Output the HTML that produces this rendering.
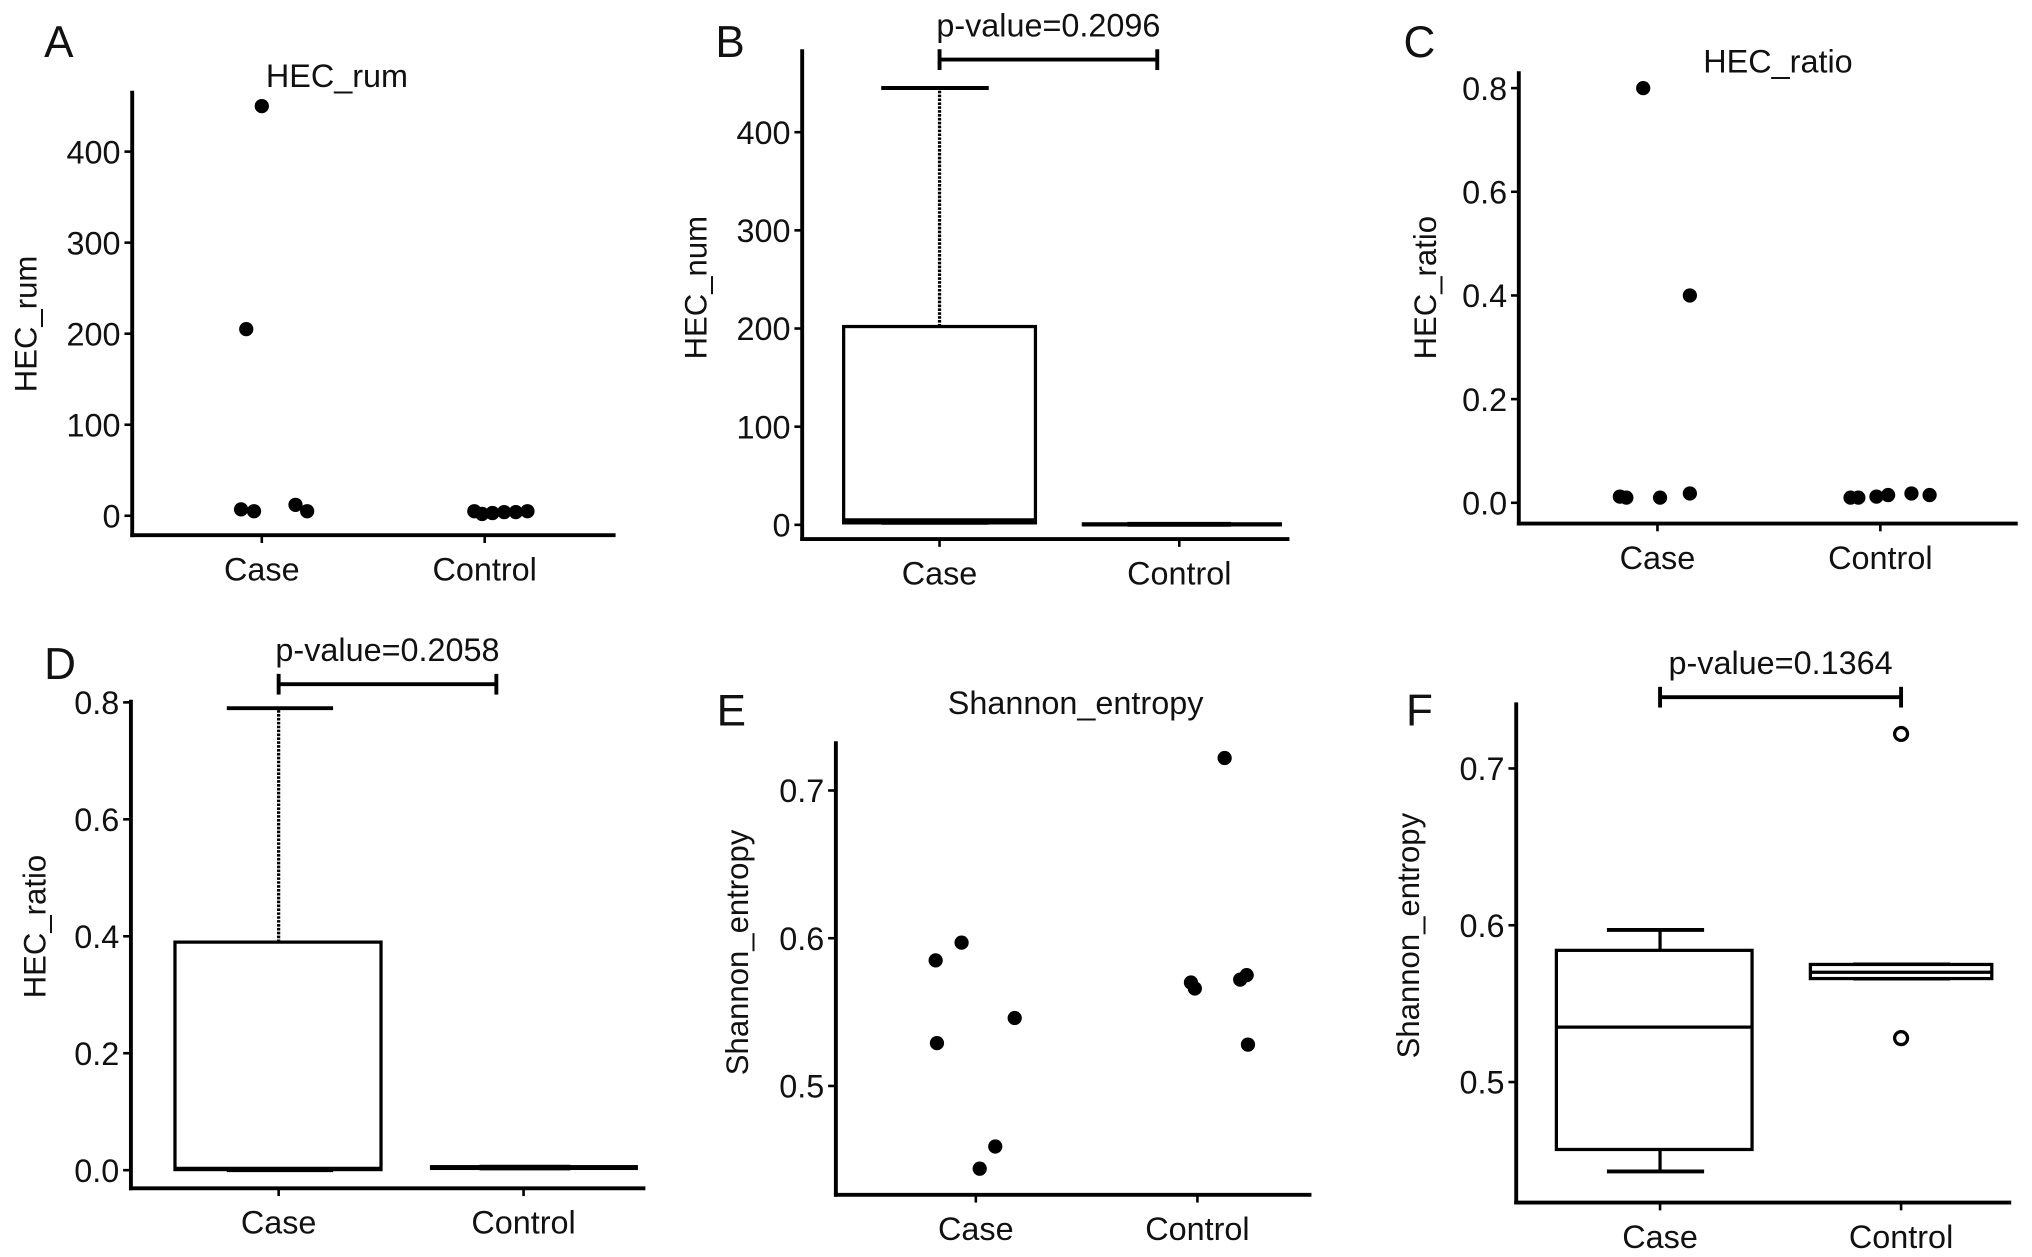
<!DOCTYPE html>
<html><head><meta charset="utf-8"><style>
html,body{margin:0;padding:0;background:#fff;}
svg{display:block;}
text{font-family:"Liberation Sans",Arial,sans-serif;fill:#111;}
</style></head><body>
<svg id="fig" width="2032" height="1257" viewBox="0 0 1568 970" xmlns="http://www.w3.org/2000/svg"></svg>
<script>
// ---- data ----
const categories = ["Case","Control"];
// Panel A: HEC_rum scatter
const aCaseVals = [450,205,7,5,12,5];
const aCaseJit  = [0,-12,-16,-6,26,35];
const aCtrlVals = [5,2,3,4,4,5];
const aCtrlJit  = [-8,-2,6,15,24,33];
const aTicks = [0,100,200,300,400];
// Panel B: HEC_num box
const bCaseBox = [2,2,5,202,445]; // min,q1,median,q3,max
const bCtrlBox = [0,0,0,1,1];
const bTicks = [0,100,200,300,400];
const bPLabel = "p-value=0.2096";
// Panel C: HEC_ratio scatter
const cCaseVals = [0.80,0.40,0.012,0.010,0.010,0.018];
const cCaseJit  = [-11,25,-29,-24,2,25];
const cCtrlVals = [0.010,0.010,0.012,0.015,0.018,0.015];
const cCtrlJit  = [-23,-17,-3,6,24,38];
const cTicks = [0,0.2,0.4,0.6,0.8];
// Panel D: HEC_ratio box
const dCaseBox = [0,0.001,0.003,0.39,0.79];
const dCtrlBox = [0.003,0.003,0.004,0.006,0.006];
const dTicks = [0,0.2,0.4,0.6,0.8];
const dPLabel = "p-value=0.2058";
// Panel E: Shannon entropy scatter
const eCaseVals = [0.585,0.597,0.546,0.529,0.459,0.444];
const eCaseJit  = [-31,-11,30,-30,15,3];
const eCtrlVals = [0.722,0.570,0.566,0.575,0.572,0.528];
const eCtrlJit  = [21,-5,-2,38,33,39];
const eTicks = [0.5,0.6,0.7];
// Panel F: Shannon entropy box
const fCaseBox = [0.443,0.457,0.535,0.584,0.597];
const fCtrlBox = [0.566,0.566,0.570,0.575,0.575];
const fCtrlOut = [0.722,0.528];
const fTicks = [0.5,0.6,0.7];
const fPLabel = "p-value=0.1364";

const NS="http://www.w3.org/2000/svg";
const svg=document.getElementById('fig');
function mk(tag,attrs,parent){const e=document.createElementNS(NS,tag);for(const k in attrs)e.setAttribute(k,attrs[k]);(parent||svg).appendChild(e);return e;}
function lin(d0,d1,r0,r1){return v=>r0+(v-d0)/(d1-d0)*(r1-r0);}

function panel(o){
  const g=mk('g',{});
  
  
  const y=lin(o.d0,o.d1,o.r0,o.r1);
  let t=mk('text',{x:o.letter[0],y:o.letter[1],'font-size':34},g);t.textContent=o.id;
  
  
  if(o.title){t=mk('text',{x:o.title[0],y:o.title[1],'font-size':25,'text-anchor':'middle'},g);t.textContent=o.title[2];
    
    }
  let l=mk('line',{x1:o.ax,y1:o.atop,x2:o.ax,y2:o.ay+1.5,stroke:'#000','stroke-width':3},g);
  
  
  l=mk('line',{x1:o.ax-1.5,y1:o.ay,x2:o.aright,y2:o.ay,stroke:'#000','stroke-width':3},g);
  
  
  o.ticks.forEach(v=>{
    mk('line',{x1:o.ax-6,y1:y(v),x2:o.ax,y2:y(v),stroke:'#000','stroke-width':2},g);
    const tt=mk('text',{x:o.ax-9,y:y(v)+9,'font-size':25,'text-anchor':'end'},g);
    tt.textContent=o.fmt(v);
    
    
  });
  categories.forEach((c,i)=>{
    mk('line',{x1:o.cx[i],y1:o.ay,x2:o.cx[i],y2:o.ay+6,stroke:'#000','stroke-width':2},g);
    const tt=mk('text',{x:o.cx[i],y:o.ay+35,'font-size':25,'text-anchor':'middle'},g);
    tt.textContent=c;
    
    
  });
  const yt=mk('text',{x:0,y:0,'font-size':24,'text-anchor':'middle',transform:`translate(${o.ylab[0]},${o.ylab[1]}) rotate(-90)`},g);
  yt.textContent=o.ylab[2];
  
  
  return {g,y};
}
function scatter(P,cx,vals,jit,name){
  vals.forEach((v,i)=>{
    const c=mk('circle',{cx:cx+jit[i],cy:P.y(v),r:5.5,fill:'#000'},P.g);
    
    
  });
}
function box(P,cx,b,x0,x1,capL,capR,name,dotted){
  const g=mk('g',{},P.g);
  
  
  const y=P.y;
  const da=dotted?{'stroke-dasharray':'2 1'}:{};
  mk('line',Object.assign({x1:cx,y1:y(b[3]),x2:cx,y2:y(b[4]),stroke:'#000','stroke-width':2.5},da),g);
  mk('line',{x1:cx,y1:y(b[1]),x2:cx,y2:y(b[0]),stroke:'#000','stroke-width':2.5},g);
  mk('line',{x1:capL,y1:y(b[4]),x2:capR,y2:y(b[4]),stroke:'#000','stroke-width':3},g);
  mk('line',{x1:capL,y1:y(b[0]),x2:capR,y2:y(b[0]),stroke:'#000','stroke-width':3},g);
  mk('rect',{x:x0,y:y(b[3]),width:x1-x0,height:Math.max(0.5,y(b[1])-y(b[3])),fill:'#fff',stroke:'#000','stroke-width':2.5},g);
  mk('line',{x1:x0,y1:y(b[2]),x2:x1,y2:y(b[2]),stroke:'#000','stroke-width':2.5},g);
}
function pval(P,xa,xb,yb,label){
  const g=mk('g',{},P.g);
  
  
  mk('line',{x1:xa,y1:yb,x2:xb,y2:yb,stroke:'#000','stroke-width':3},g);
  mk('line',{x1:xa,y1:yb-8,x2:xa,y2:yb+8,stroke:'#000','stroke-width':3},g);
  mk('line',{x1:xb,y1:yb-8,x2:xb,y2:yb+8,stroke:'#000','stroke-width':3},g);
  const t=mk('text',{x:(xa+xb)/2,y:yb-18,'font-size':25,'text-anchor':'middle'},g);
  t.textContent=label;
  
  
}
const f0=v=>String(v), f1=v=>v.toFixed(1);

// A
let P=panel({id:'A',letter:[34,44],title:[260,67,'HEC_rum'],ax:102,atop:70,ay:413,aright:475,d0:0,d1:400,r0:398,r1:117,ticks:aTicks,fmt:f0,cx:[202,374],ylab:[28,250,'HEC_rum']});
scatter(P,202,aCaseVals,aCaseJit,'case');
scatter(P,374,aCtrlVals,aCtrlJit,'control');
// B
P=panel({id:'B',letter:[552,44],ax:619,atop:38,ay:416,aright:995,d0:0,d1:400,r0:405,r1:102,ticks:bTicks,fmt:f0,cx:[725,910],ylab:[545,222,'HEC_num']});
box(P,725,bCaseBox,651,799,680,763,'case',true);
box(P,910,bCtrlBox,836,988,870,950,'control',false);
pval(P,725,893,46,bPLabel);
// C
P=panel({id:'C',letter:[1083,44],title:[1372,56,'HEC_ratio'],ax:1172,atop:55,ay:404,aright:1557,d0:0,d1:0.8,r0:388,r1:68,ticks:cTicks,fmt:f1,cx:[1279,1451],ylab:[1108,222,'HEC_ratio']});
scatter(P,1279,cCaseVals,cCaseJit,'case');
scatter(P,1451,cCtrlVals,cCtrlJit,'control');
// D
P=panel({id:'D',letter:[34,524],ax:101,atop:540,ay:917,aright:498,d0:0,d1:0.8,r0:903,r1:542,ticks:dTicks,fmt:f1,cx:[215,404],ylab:[35,715,'HEC_ratio']});
box(P,215,dCaseBox,135,294,175,257,'case',true);
box(P,404,dCtrlBox,333,491,370,440,'control',false);
pval(P,215,383,528,dPLabel);
// E
P=panel({id:'E',letter:[553,560],title:[830,551,'Shannon_entropy'],ax:645,atop:572,ay:922,aright:1012,d0:0.5,d1:0.7,r0:838,r1:610,ticks:eTicks,fmt:f1,cx:[753,924],ylab:[577,735,'Shannon_entropy']});
scatter(P,753,eCaseVals,eCaseJit,'case');
scatter(P,924,eCtrlVals,eCtrlJit,'control');
// F
P=panel({id:'F',letter:[1085,560],ax:1170,atop:542,ay:928,aright:1552,d0:0.5,d1:0.7,r0:835,r1:593,ticks:fTicks,fmt:f1,cx:[1281,1467],ylab:[1095,722,'Shannon_entropy']});
box(P,1281,fCaseBox,1201,1352,1240,1315,'case',false);
box(P,1467,fCtrlBox,1397,1537,1430,1505,'control',false);
fCtrlOut.forEach(v=>{
  const c=mk('circle',{cx:1467,cy:P.y(v),r:5,fill:'#fff',stroke:'#000','stroke-width':2.5},P.g);
  
  
});
pval(P,1281,1467,538,fPLabel);
</script>
</body></html>
